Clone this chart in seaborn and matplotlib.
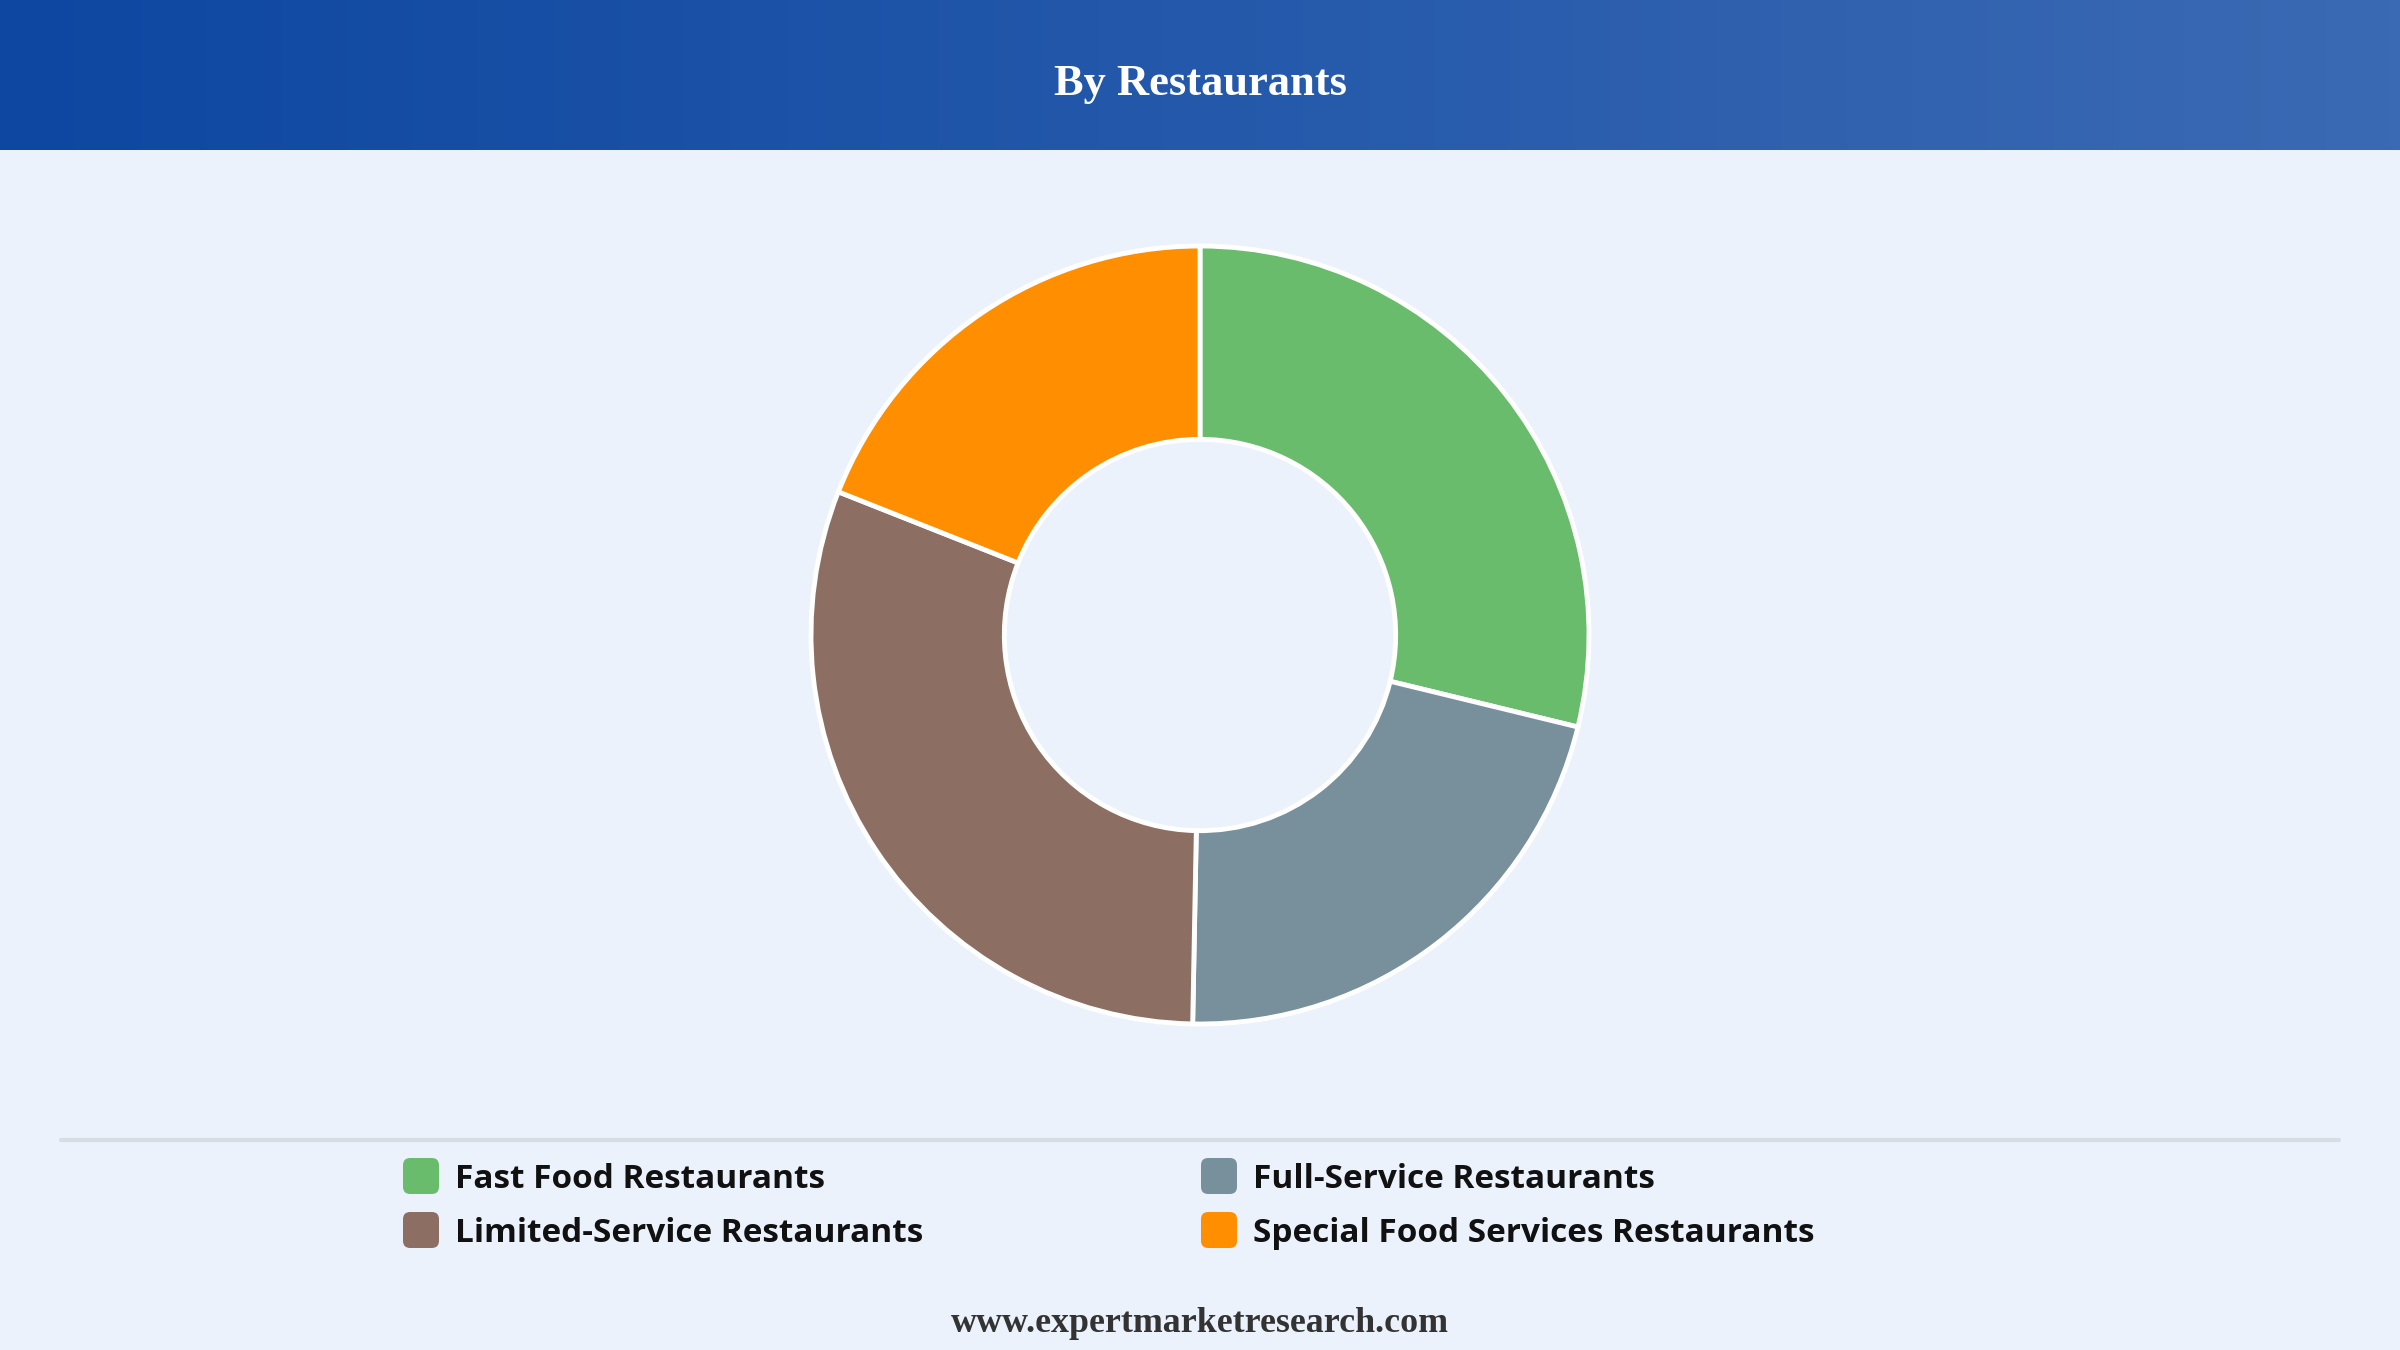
import numpy as np
import matplotlib
matplotlib.use("Agg")
import matplotlib.pyplot as plt
import seaborn as sns
from matplotlib.patches import FancyBboxPatch
from matplotlib.lines import Line2D

# données
categories = ["Fast Food Restaurants", "Full-Service Restaurants",
              "Limited-Service Restaurants", "Special Food Services Restaurants"]
shares = [28.8, 21.5, 30.7, 19.0]
colors = ["#69BC6C", "#78909C", "#8D6E63", "#FF8F00"]

title = "By Restaurants"
footer = "www.expertmarketresearch.com"

bg = "#EBF2FC"

sns.set_theme(style="white")
plt.rcParams["font.family"] = ["Open Sans", "DejaVu Sans"]

W, H = 2400, 1350
fig = plt.figure(figsize=(24, 13.5), dpi=100, facecolor=bg)

# bandeau du titre avec dégradé
hdr_h = 150 / H
ax_h = fig.add_axes([0, 1 - hdr_h, 1, hdr_h])
grad = np.linspace(0, 1, 512)[None, :]
cmap = matplotlib.colors.LinearSegmentedColormap.from_list("hdr", ["#0D47A1", "#3B6AB4"])
ax_h.imshow(grad, aspect="auto", cmap=cmap, extent=[0, 1, 0, 1])
ax_h.set_axis_off()
ax_h.text(0.5, 0.44, title, ha="center", va="center", color="white",
          fontsize=32, fontweight="bold", family="Liberation Serif",
          transform=ax_h.transAxes)

# donut
cx, cy, r = 1200, 1350 - 635, 389
half = r * 1.1
ax = fig.add_axes([(cx - half) / W, (cy - half) / H, 2 * half / W, 2 * half / H])
ax.set_facecolor(bg)
ax.pie(shares, colors=colors, startangle=90, counterclock=False,
       wedgeprops=dict(width=0.497, edgecolor="white", linewidth=3.5))
ax.set_xlim(-1.1, 1.1)
ax.set_ylim(-1.1, 1.1)
ax.set_aspect("equal")
ax.set_axis_off()

# ligne de séparation
fig.add_artist(Line2D([61 / W, 2339 / W], [1 - 1140 / H, 1 - 1140 / H],
                      color="#D8DDE3", linewidth=3, transform=fig.transFigure))

# légende
col_x = [403, 1201]
row_y = [1176, 1230]
sq = 36
for i, (lab, c) in enumerate(zip(categories, colors)):
    x0 = col_x[i % 2]
    y0 = row_y[i // 2]
    box = FancyBboxPatch((x0 / W, 1 - (y0 + sq / 2) / H), sq / W, sq / H,
                         boxstyle="round,pad=0,rounding_size=0.003",
                         facecolor=c, edgecolor="none", transform=fig.transFigure,
                         mutation_aspect=W / H)
    fig.add_artist(box)
    fig.text((x0 + sq + 16) / W, 1 - (y0 + 4) / H, lab, ha="left", va="center",
             fontsize=24, fontweight="bold", color="#111111")

# pied de page
fig.text(0.5, 1 - 1323 / H, footer, ha="center", va="center", color="#333333",
         fontsize=25.8, fontweight="bold", family="Liberation Serif")

fig.savefig("out.png", dpi=100, facecolor=bg)
